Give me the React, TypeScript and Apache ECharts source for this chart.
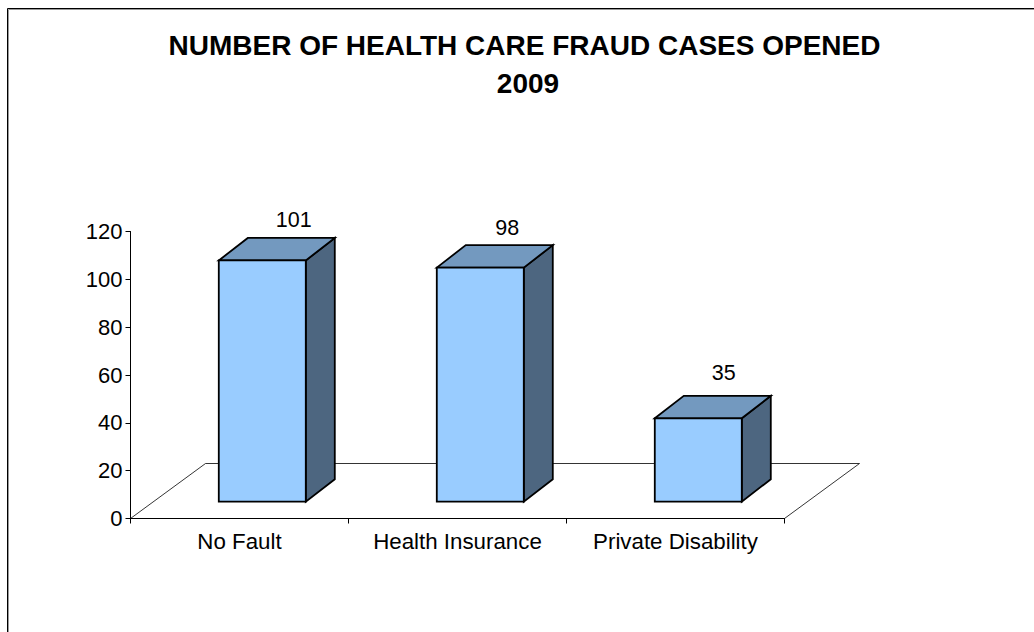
import React, { useEffect, useRef } from "react";
import * as echarts from "echarts";

const categories = ["No Fault", "Health Insurance", "Private Disability"];
const cases = [101, 98, 35];
const yTicks = { min: 0, max: 120, interval: 20 };
const titleLines = ["NUMBER OF HEALTH CARE FRAUD CASES OPENED", "2009"];

const FONT = "'Liberation Sans', Arial, sans-serif";
const labelLift = [18, 17, 23];
const labelShift = [31.5, 27, 25.5];

export default function App() {
  const ref = useRef<HTMLDivElement>(null);
  useEffect(() => {
    document.body.style.margin = "0";
    const chart = echarts.init(ref.current!, null, { renderer: "svg" });
    const polygon = (points: number[][], fill: string) => ({
      type: "polygon",
      shape: { points },
      style: { fill, stroke: "#000", lineWidth: 1.8, lineJoin: "miter" },
    });
    const titleStyle = { fontFamily: FONT, fontSize: 28, fontWeight: "bold", color: "#000", lineHeight: 38 };
    chart.setOption({
      animation: false,
      backgroundColor: "#fff",
      title: [
        { text: titleLines[0], left: 519.5, top: 21, textAlign: "center", textStyle: titleStyle },
        { text: titleLines[1], left: 523, top: 59, textAlign: "center", textStyle: titleStyle },
      ],
      grid: { left: 130.5, right: 1034 - 784.5, top: 231.5, bottom: 632 - 518.5 },
      xAxis: {
        type: "category",
        data: categories,
        axisLine: { lineStyle: { color: "#000", width: 1.2 } },
        axisTick: { show: true, alignWithLabel: false, interval: 0, length: 5, lineStyle: { color: "#000" } },
        axisLabel: { fontFamily: FONT, fontSize: 22.3, color: "#000", margin: 12, interval: 0, hideOverlap: false },
        splitLine: { show: false },
      },
      yAxis: {
        type: "value",
        ...yTicks,
        axisLine: { show: true, lineStyle: { color: "#000", width: 1 } },
        axisTick: { show: true, length: 5, lineStyle: { color: "#000" } },
        axisLabel: { fontFamily: FONT, fontSize: 22, color: "#000", margin: 8 },
        splitLine: { show: false },
      },
      graphic: [
        { type: "polyline", silent: true, shape: { points: [[8.5, 632], [8.5, 9.5], [1034, 9.5]] }, style: { fill: "none", stroke: "#999", lineWidth: 1 } },
        { type: "polyline", silent: true, shape: { points: [[7.5, 632], [7.5, 8.5], [1034, 8.5]] }, style: { fill: "none", stroke: "#000", lineWidth: 1 } },
      ],
      series: [
        {
          type: "custom",
          coordinateSystem: "cartesian2d",
          z: 1,
          silent: true,
          clip: false,
          data: [[0, 0]],
          renderItem: (params: any, api: any) => {
            const cs = params.coordSys;
            const bottom = api.coord([0, 0])[1];
            const l = cs.x;
            const r = cs.x + cs.width;
            return {
              type: "polyline",
              shape: { points: [[l, bottom], [l + 75, bottom - 55], [r + 75, bottom - 55], [r, bottom]] },
              style: { fill: "none", stroke: "#000", lineWidth: 0.8 },
            };
          },
        },
        {
          type: "custom",
          coordinateSystem: "cartesian2d",
          z: 2,
          silent: true,
          clip: false,
          data: cases.map((v, i) => [i, v]),
          renderItem: (_params: any, api: any) => {
            const i = api.value(0);
            const v = api.value(1);
            const band = api.size([1, 0])[0];
            const [cx, base] = api.coord([i, 0]);
            const top = api.coord([i, v])[1] - 16.5;
            const bottom = base - 16.8;
            const left = cx - band / 2 + band * 0.405;
            const right = left + 87;
            const dx = 29;
            const dy = 22.5;
            return {
              type: "group",
              children: [
                polygon([[right, top], [right + dx, top - dy], [right + dx, bottom - dy], [right, bottom]], "#4D6680"),
                polygon([[left, top], [left + dx, top - dy], [right + dx, top - dy], [right, top]], "#7399BF"),
                polygon([[left, top], [right, top], [right, bottom], [left, bottom]], "#99CCFF"),
                {
                  type: "text",
                  style: {
                    text: String(v),
                    x: (left + right) / 2 + labelShift[i],
                    y: top - dy - labelLift[i],
                    align: "center",
                    verticalAlign: "middle",
                    font: `21.5px ${FONT}`,
                    fill: "#000",
                  },
                },
              ],
            };
          },
        },
      ],
    });
    return () => chart.dispose();
  }, []);
  return <div ref={ref} style={{ width: 1034, height: 632 }} />;
}
